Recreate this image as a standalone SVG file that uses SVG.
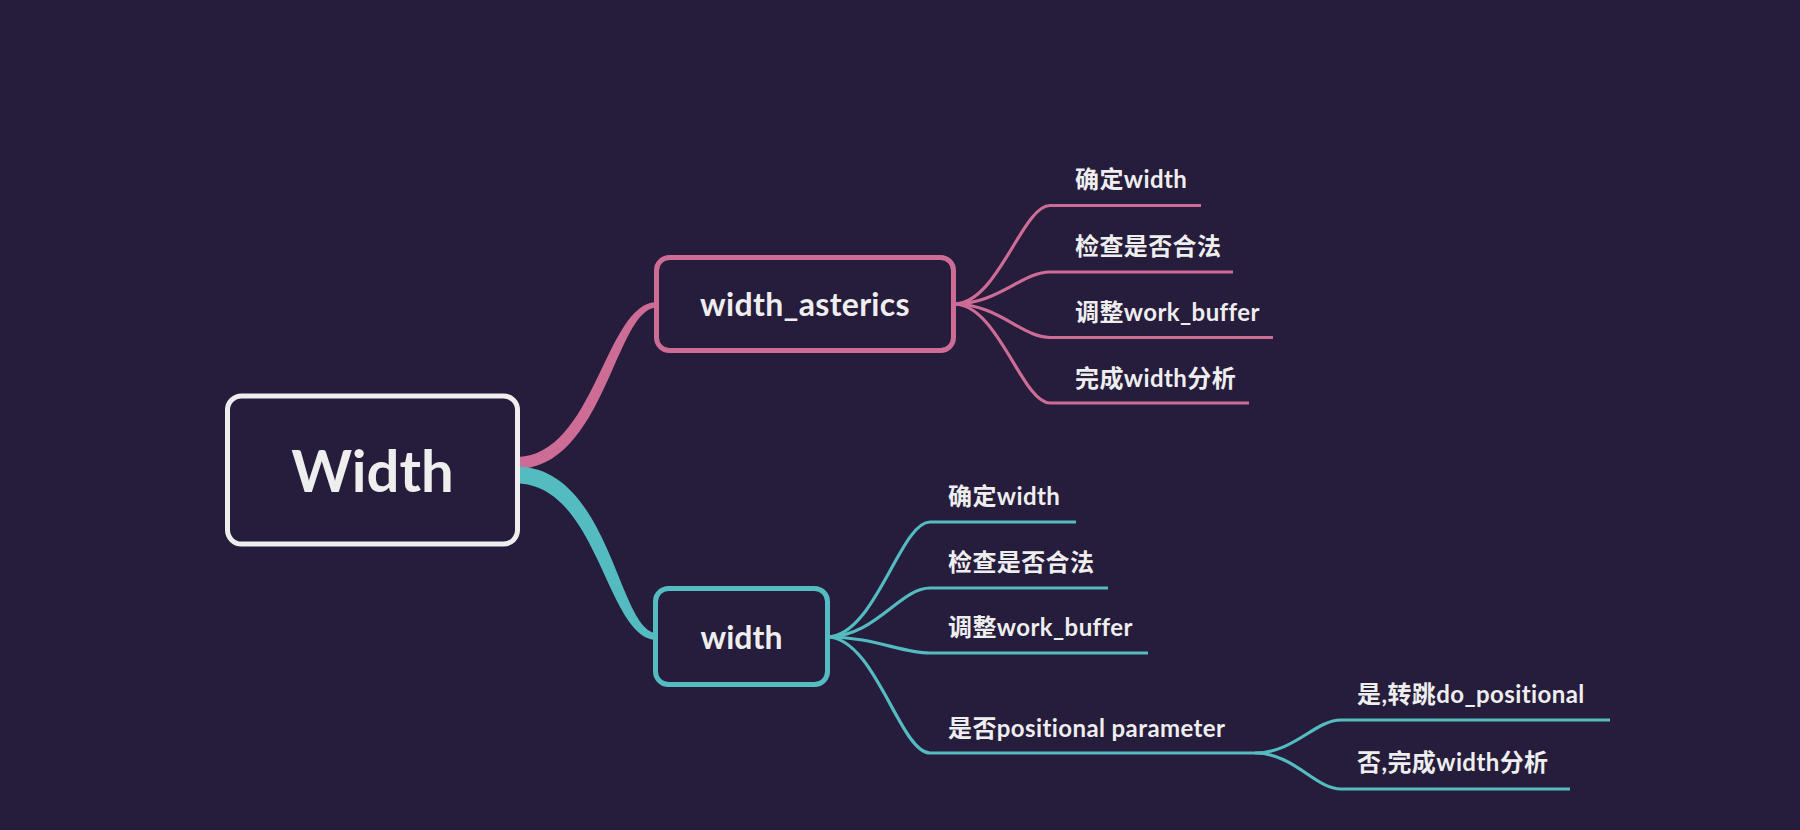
<svg xmlns="http://www.w3.org/2000/svg" width="1800" height="830" viewBox="0 0 1800 830">
<style>
.t{font-family:Lato,"Noto Sans CJK SC",sans-serif;font-weight:700;fill:#eeeeee}
.leaf{font-size:24px;letter-spacing:0.4px}
.box{fill:#261c3b;stroke-width:5}
.pk{stroke:#cd6c95}
.tl{stroke:#54bcc0}
.ln{fill:none;stroke-width:3.2;stroke-linecap:butt}
</style>
<rect width="1800" height="830" fill="#261c3b"/>
<g id="connectors">
<path d="M516,457 C595,457 605,302 657,302 L657,307.5 C615,307.5 605,469 516,469 Z" fill="#cd6c95"/>
<path d="M516,466.5 C611,466.5 618,633 657,633 L657,640 C606,640 599,483.5 516,483.5 Z" fill="#54bcc0"/>
<g class="ln pk">
<path d="M954,304 C998,304 1022,205.5 1050,205.5 L1201,205.5"/>
<path d="M954,304 C998,304 1022,272 1050,272 L1233,272"/>
<path d="M954,304 C998,304 1022,337.5 1050,337.5 L1273,337.5"/>
<path d="M954,304 C998,304 1022,403 1050,403 L1249,403"/>
</g>
<g class="ln tl">
<path d="M827,637 C875,637 900,522 930,522 L1076,522"/>
<path d="M827,637 C875,637 900,588 930,588 L1108,588"/>
<path d="M827,637 C875,637 900,653 930,653 L1148,653"/>
<path d="M827,637 C875,637 900,753 930,753 L1255,753"/>
<path d="M1255,753 C1294,753 1315,720 1341,720 L1610,720"/>
<path d="M1255,753 C1294,753 1315,789 1341,789 L1570,789"/>
</g>
</g>
<g id="root">
<rect class="box" x="227.5" y="396" width="290" height="148" rx="14" stroke="#eeeeee"/>
<text class="t" x="372.5" y="492" font-size="58" text-anchor="middle">Width</text>
</g>
<g id="width_asterics">
<rect class="box pk" x="656.5" y="257.5" width="297" height="93" rx="13"/>
<text class="t" x="805" y="316" font-size="32" text-anchor="middle" letter-spacing="0.3">width_asterics</text>
</g>
<g id="width">
<rect class="box tl" x="655.5" y="588.5" width="172" height="96" rx="13"/>
<text class="t" x="741.5" y="649" font-size="32" text-anchor="middle">width</text>
</g>
<g id="a1"><text class="t leaf" x="1075" y="188">确定width</text></g>
<g id="a2"><text class="t leaf" x="1075" y="255">检查是否合法</text></g>
<g id="a3"><text class="t leaf" x="1075" y="321">调整work_buffer</text></g>
<g id="a4"><text class="t leaf" x="1075" y="387">完成width分析</text></g>
<g id="b1"><text class="t leaf" x="948" y="505">确定width</text></g>
<g id="b2"><text class="t leaf" x="948" y="571">检查是否合法</text></g>
<g id="b3"><text class="t leaf" x="948" y="636">调整work_buffer</text></g>
<g id="b4"><text class="t leaf" x="948" y="737">是否positional parameter</text></g>
<g id="c1"><text class="t leaf" x="1357" y="703">是,转跳do_positional</text></g>
<g id="c2"><text class="t leaf" x="1357" y="771">否,完成width分析</text></g>
</svg>
